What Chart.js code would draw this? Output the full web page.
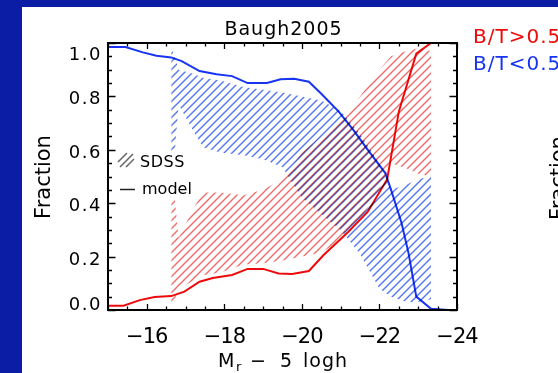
<!DOCTYPE html>
<html lang="en">
<head>
<meta charset="UTF-8">
<title>Baugh2005</title>
<script src="https://cdn.jsdelivr.net/npm/chart.js"></script>
<style>
  * { margin: 0; padding: 0; }
  body { background: #0b1ca5; overflow: hidden; }
  canvas { display: block; }
</style>
</head>
<body>
<canvas id="myChart" width="558" height="373"></canvas>
<script>
// model: fraction of galaxies by bulge-to-total ratio vs magnitude
const modelMag = [-15.0, -15.45, -15.9, -16.25, -16.63, -16.9, -17.36, -17.8, -18.2, -18.6, -19.1, -19.45,
  -19.8, -20.18, -20.5, -20.95, -21.33, -21.7, -22.15, -22.3, -22.57, -22.75, -22.95, -23.33, -23.77];
const modelLate = [0.985, 0.985, 0.965, 0.952, 0.946, 0.932, 0.895, 0.883, 0.876, 0.85, 0.85, 0.864,
  0.866, 0.855, 0.81, 0.743, 0.674, 0.60, 0.513, 0.45, 0.326, 0.213, 0.05, 0.005, 0.0];
const modelEarlyMag = [-15.0, -15.4, -15.82, -16.2, -16.63, -16.97, -17.36, -17.7, -18.2, -18.6, -19.0, -19.4,
  -19.75, -20.18, -20.56, -21.2, -21.7, -22.2, -22.5, -22.95, -23.33, -23.77];
const modelEarly = [0.016, 0.016, 0.037, 0.049, 0.052, 0.069, 0.106, 0.12, 0.131, 0.154, 0.154, 0.137,
  0.135, 0.146, 0.206, 0.293, 0.368, 0.49, 0.743, 0.96, 1.0, 1.0];

// SDSS ranges (hatched)
const sdssMag = [-16.63, -16.72, -16.82, -17.2, -17.45, -17.9, -18.5, -19.0, -19.5, -20.0, -20.5, -21.0,
  -21.5, -22.0, -22.3, -22.7, -23.0, -23.33];
const sdssLateHi = [0.98, 0.95, 0.90, 0.885, 0.87, 0.86, 0.835, 0.825, 0.815, 0.80, 0.785, 0.745,
  0.66, 0.55, 0.45, 0.47, 0.49, 0.50];
const sdssLateLo = [0.59, 0.59, 0.77, 0.67, 0.61, 0.59, 0.58, 0.565, 0.535, 0.42, 0.36, 0.30,
  0.21, 0.08, 0.05, 0.03, 0.03, 0.04];
const sdssEarlyHi = [0.42, 0.42, 0.27, 0.38, 0.44, 0.44, 0.43, 0.45, 0.49, 0.59, 0.65, 0.71,
  0.80, 0.90, 0.95, 0.97, 0.98, 0.97];
const sdssEarlyLo = [0.01, 0.04, 0.08, 0.11, 0.13, 0.14, 0.17, 0.175, 0.185, 0.20, 0.215, 0.26,
  0.34, 0.45, 0.55, 0.53, 0.51, 0.50];

const xTickValues = [-16, -18, -20, -22, -24];
const yTickLabels = ['0.0', '0.2', '0.4', '0.6', '0.8', '1.0'];

const FONT = '"DejaVu Sans", sans-serif';
const RED = '#ee0a0a';
const BLUE = '#1634f2';

const pts = (xs, ys) => xs.map((x, i) => ({x: x, y: ys[i]}));

// "/" hatching, 8px period; shift moves the lines sideways inside the tile
function hatch(color, shift) {
  const s = 8;
  const c = document.createElement('canvas');
  c.width = c.height = s;
  const g = c.getContext('2d');
  g.strokeStyle = color;
  g.lineWidth = 1.4;
  g.beginPath();
  for (let k = shift - s; k <= shift + 2 * s; k += s) {
    g.moveTo(k + 1, -1);
    g.lineTo(k - s - 1, s + 1);
  }
  g.stroke();
  return g.createPattern(c, 'repeat');
}

function band(data, fill, bg) {
  return {
    data: data, fill: fill, backgroundColor: bg || 'transparent',
    borderWidth: 0, borderColor: 'transparent', pointRadius: 0, tension: 0, order: 2
  };
}

const decor = {
  id: 'decor',
  beforeDraw(chart) {
    const ctx = chart.ctx;
    ctx.save();
    ctx.fillStyle = '#0b1ca5';
    ctx.fillRect(0, 0, chart.width, chart.height);
    ctx.fillStyle = '#fff';
    ctx.fillRect(22, 7, chart.width - 22, chart.height - 7);
    ctx.restore();
  },
  // overlapping hatches darken each other
  beforeDatasetsDraw(chart) { chart.ctx.globalCompositeOperation = 'multiply'; },
  afterDatasetsDraw(chart) { chart.ctx.globalCompositeOperation = 'source-over'; },
  afterDraw(chart) {
    const ctx = chart.ctx;
    const a = chart.chartArea;
    const x = chart.scales.x, y = chart.scales.y;
    ctx.save();
    ctx.strokeStyle = '#000';
    ctx.fillStyle = '#000';

    // ticks on all four sides, pointing in
    ctx.lineWidth = 1.3;
    ctx.beginPath();
    for (let v = -15; v >= -24; v -= 0.5) {
      const px = Math.round(x.getPixelForValue(v)) + 0.5;
      const len = v % 2 === 0 ? 6 : 3.5;
      ctx.moveTo(px, a.bottom); ctx.lineTo(px, a.bottom - len);
      ctx.moveTo(px, a.top); ctx.lineTo(px, a.top + len);
    }
    for (let i = 0; i <= 20; i++) {
      const py = Math.round(y.getPixelForValue(i * 0.05)) + 0.5;
      const len = i % 4 === 0 ? 7.5 : 4;
      ctx.moveTo(a.left, py); ctx.lineTo(a.left + len, py);
      ctx.moveTo(a.right, py); ctx.lineTo(a.right - len, py);
    }
    ctx.stroke();
    ctx.lineWidth = 2;
    ctx.strokeRect(a.left, a.top, a.right - a.left, a.bottom - a.top);

    // y tick labels, kept inside the frame
    ctx.font = '18px ' + FONT;
    ctx.letterSpacing = '1.5px';
    ctx.textAlign = 'right';
    ctx.textBaseline = 'alphabetic';
    yTickLabels.forEach(function (t) {
      const py = y.getPixelForValue(parseFloat(t));
      const mid = Math.min(Math.max(py + 1.5, a.top + 10.5), a.bottom - 6.5);
      ctx.fillText(t, a.left - 6, mid + 6.5);
    });

    // x tick labels
    ctx.font = '21px ' + FONT;
    ctx.letterSpacing = '-1px';
    ctx.textAlign = 'center';
    xTickValues.forEach(function (v) {
      ctx.fillText('\u2212' + Math.abs(v), x.getPixelForValue(v), a.bottom + 33);
    });

    // title
    ctx.font = '19px ' + FONT;
    ctx.letterSpacing = '1px';
    ctx.fillText('Baugh2005', (a.left + a.right) / 2 + 1, 35);

    // x axis title: M_r - 5 logh
    ctx.textAlign = 'left';
    ctx.letterSpacing = '0px';
    ctx.fillText('M', 218, 367);
    ctx.font = '13px ' + FONT;
    ctx.fillText('r', 236, 371);
    ctx.font = '19px ' + FONT;
    ctx.fillText('\u2212', 250, 367);
    ctx.fillText('5', 280, 367);
    ctx.letterSpacing = '1px';
    ctx.fillText('logh', 303, 367);

    // y axis titles
    ctx.font = '21px ' + FONT;
    ctx.letterSpacing = '0px';
    ctx.textAlign = 'center';
    [[50, 177], [565, 178]].forEach(function (p) {
      ctx.save();
      ctx.translate(p[0], p[1]);
      ctx.rotate(-Math.PI / 2);
      ctx.fillText('Fraction', 0, 0);
      ctx.restore();
    });

    // legend outside the frame
    ctx.font = '20px ' + FONT;
    ctx.letterSpacing = '1px';
    ctx.textAlign = 'left';
    ctx.fillStyle = RED;
    ctx.fillText('B/T>0.5', 473, 43);
    ctx.fillStyle = BLUE;
    ctx.fillText('B/T<0.5', 473, 70);

    // legend inside the frame
    ctx.strokeStyle = '#666';
    ctx.lineWidth = 1.5;
    ctx.beginPath();
    ctx.moveTo(118, 162); ctx.lineTo(127, 153);
    ctx.moveTo(120, 167); ctx.lineTo(133, 154);
    ctx.moveTo(126, 167); ctx.lineTo(134, 159);
    ctx.stroke();
    ctx.strokeStyle = '#222';
    ctx.beginPath();
    ctx.moveTo(120, 189.5); ctx.lineTo(135, 189.5);
    ctx.stroke();
    ctx.fillStyle = '#000';
    ctx.font = '16px ' + FONT;
    ctx.letterSpacing = '0.5px';
    ctx.fillText('SDSS', 140, 167);
    ctx.letterSpacing = '0px';
    ctx.fillText('model', 142, 194);
    ctx.restore();
  }
};

const myChart = new Chart(document.getElementById('myChart'), {
  type: 'line',
  data: {
    datasets: [
      band(pts(sdssMag, sdssEarlyLo), false),
      band(pts(sdssMag, sdssEarlyHi), '-1', hatch('#f06a6a', 0)),
      band(pts(sdssMag, sdssLateLo), false),
      band(pts(sdssMag, sdssLateHi), '-1', hatch('#5274f0', 1)),
      {
        data: pts(modelEarlyMag, modelEarly), borderColor: RED, borderWidth: 2,
        pointRadius: 0, tension: 0, fill: false, order: 0
      },
      {
        data: pts(modelMag, modelLate), borderColor: BLUE, borderWidth: 2,
        pointRadius: 0, tension: 0, fill: false, order: 0
      }
    ]
  },
  options: {
    responsive: false,
    animation: false,
    devicePixelRatio: 1,
    events: [],
    layout: { padding: { left: 108, right: 101, top: 43, bottom: 63 } },
    scales: {
      x: { type: 'linear', min: -24, max: -15, reverse: true, display: false },
      y: { type: 'linear', min: 0, max: 1, display: false }
    },
    plugins: { legend: { display: false }, tooltip: { enabled: false } }
  },
  plugins: [decor]
});
</script>
</body>
</html>
